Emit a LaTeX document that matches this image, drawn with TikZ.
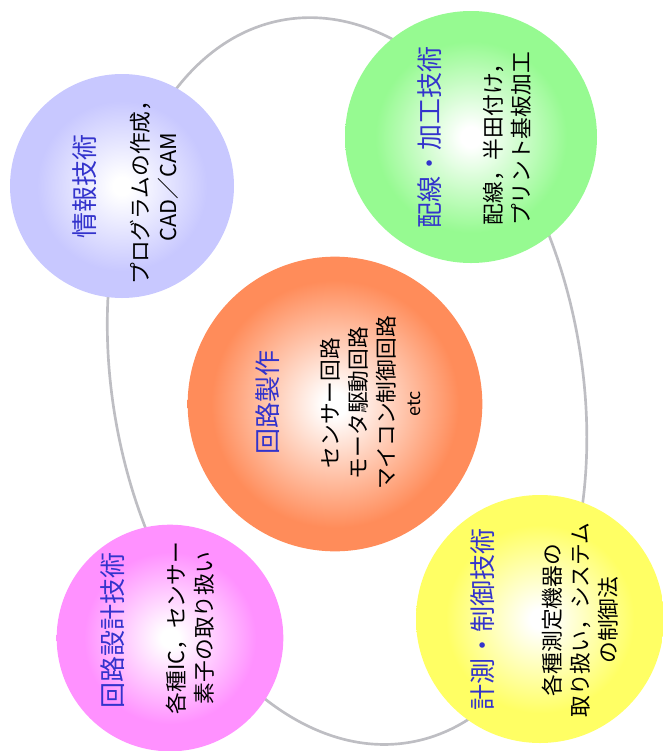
\documentclass[tikz,border=0pt]{standalone}
\usepackage{fontspec}
\setmainfont{Noto Sans CJK JP}
\definecolor{cInfo}{RGB}{200,200,255}
\definecolor{cWire}{RGB}{150,250,145}
\definecolor{cMain}{RGB}{255,140,90}
\definecolor{cCirc}{RGB}{255,145,255}
\definecolor{cMeas}{RGB}{255,255,100}
\definecolor{cTitle}{RGB}{51,51,204}
\definecolor{cLoop}{RGB}{190,190,195}
\pgfdeclareradialshading{shInfo}{\pgfpoint{0bp}{0bp}}{color(0bp)=(white); color(2bp)=(white); color(19bp)=(cInfo); color(50bp)=(cInfo)}
\pgfdeclareradialshading{shWire}{\pgfpoint{0bp}{0bp}}{color(0bp)=(white); color(2bp)=(white); color(19bp)=(cWire); color(50bp)=(cWire)}
\pgfdeclareradialshading{shMain}{\pgfpoint{0bp}{0bp}}{color(0bp)=(white); color(2bp)=(white); color(21bp)=(cMain); color(50bp)=(cMain)}
\pgfdeclareradialshading{shCirc}{\pgfpoint{0bp}{0bp}}{color(0bp)=(white); color(2bp)=(white); color(19bp)=(cCirc); color(50bp)=(cCirc)}
\pgfdeclareradialshading{shMeas}{\pgfpoint{0bp}{0bp}}{color(0bp)=(white); color(2bp)=(white); color(19bp)=(cMeas); color(50bp)=(cMeas)}
\tikzset{
  ball/.style={circle, inner sep=0pt, shade},
  titletext/.style={rotate=90, text=cTitle, font=\fontsize{19.5}{24}\selectfont, inner sep=0pt},
  bodytext/.style={rotate=90, text=black, align=center, font=\fontsize{16.3}{21}\selectfont, inner sep=0pt},
  loopline/.style={draw=cLoop, line width=2pt}
}
\begin{document}
\begin{tikzpicture}[x=0.75pt,y=-0.75pt]
\useasboundingbox (0,0) rectangle (663,751);
\coordinate (loopc) at (347,381);
\draw[loopline, rotate around={10:(loopc)}] (loopc) ellipse [x radius=176pt, y radius=275pt];

\node[ball, minimum size=168pt, shading=shInfo] (info) at (122,186) {};
\node[ball, minimum size=189pt, shading=shWire] (wire) at (471,137) {};
\node[ball, minimum size=221pt, shading=shMain] (main) at (335,404) {};
\node[ball, minimum size=170pt, shading=shCirc] (circ) at (170,638) {};
\node[ball, minimum size=186pt, shading=shMeas] (meas) at (540,619) {};

\node[titletext] (infoT) at (85,186) {情報技術};
\node[bodytext] (infoB) at (154,187) {プログラムの作成，\\CAD／CAM};

\node[titletext] (wireT) at (430,137) {配線・加工技術};
\node[bodytext] (wireB) at (507,139) {配線，半田付け，\\プリント基板加工};

\node[titletext] (mainT) at (268,402) {回路製作};
\node[bodytext] (mainB) at (358,403) {センサー回路\\モータ駆動回路\\マイコン制御回路};
\node[rotate=90, font=\fontsize{13.5}{16}\selectfont, inner sep=0pt] (mainE) at (414,404) {etc};

\node[titletext] (circT) at (113,630) {回路設計技術};
\node[bodytext] (circB) at (190,628) {各種IC，センサー\\素子の取り扱い};

\node[titletext] (measT) at (483,619) {計測・制御技術};
\node[bodytext] (measB) at (580,620) {各種測定機器の\\取り扱い，システム\\の制御法};
\end{tikzpicture}
\end{document}
